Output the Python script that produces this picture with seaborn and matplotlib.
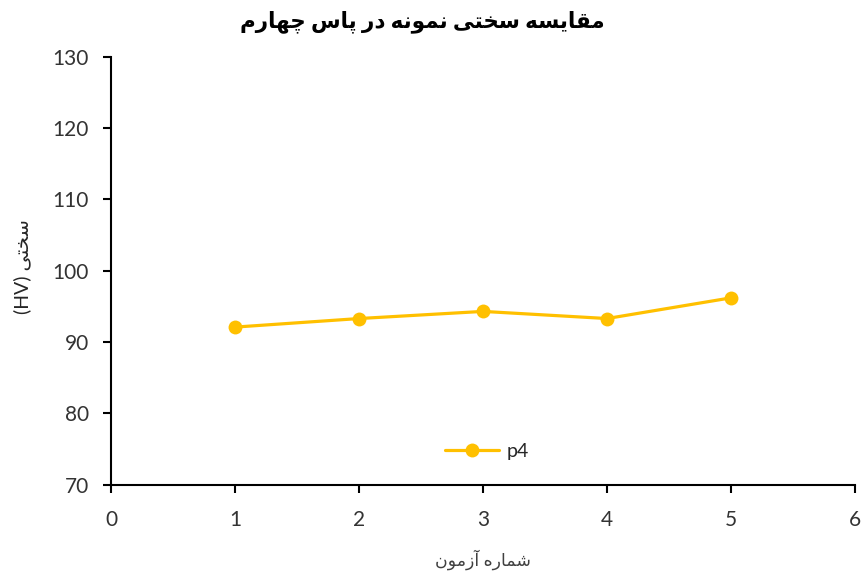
import matplotlib
matplotlib.use("Agg")
import matplotlib.pyplot as plt
import pandas as pd
import seaborn as sns

# data
azmoon = [1, 2, 3, 4, 5]
sakhti_p4 = [92.1, 93.3, 94.3, 93.3, 96.2]
nam_seri = "p4"
titr = "مقایسه سختی نمونه در پاس چهارم"
barchasb_x = "شماره آزمون"
barchasb_y = "سختی"

# simple persian shaping (matplotlib has no bidi / joining)
FORMS = {
    "ا": ("\uFE8D", "\uFE8E", None, None),
    "آ": ("\uFE81", "\uFE82", None, None),
    "ت": ("\uFE95", "\uFE96", "\uFE97", "\uFE98"),
    "خ": ("\uFEA5", "\uFEA6", "\uFEA7", "\uFEA8"),
    "د": ("\uFEA9", "\uFEAA", None, None),
    "ر": ("\uFEAD", "\uFEAE", None, None),
    "ز": ("\uFEAF", "\uFEB0", None, None),
    "س": ("\uFEB1", "\uFEB2", "\uFEB3", "\uFEB4"),
    "ش": ("\uFEB5", "\uFEB6", "\uFEB7", "\uFEB8"),
    "ق": ("\uFED5", "\uFED6", "\uFED7", "\uFED8"),
    "م": ("\uFEE1", "\uFEE2", "\uFEE3", "\uFEE4"),
    "ن": ("\uFEE5", "\uFEE6", "\uFEE7", "\uFEE8"),
    "ه": ("\uFEE9", "\uFEEA", "\uFEEB", "\uFEEC"),
    "و": ("\uFEED", "\uFEEE", None, None),
    "پ": ("\uFB56", "\uFB57", "\uFB58", "\uFB59"),
    "چ": ("\uFB7A", "\uFB7B", "\uFB7C", "\uFB7D"),
    "ی": ("\uFBFC", "\uFBFD", "\uFBFE", "\uFBFF"),
}


def farsi(matn):
    out = []
    for i, ch in enumerate(matn):
        if ch not in FORMS:
            out.append(ch)
            continue
        prev = matn[i - 1] if i > 0 else ""
        nxt = matn[i + 1] if i + 1 < len(matn) else ""
        joins_prev = prev in FORMS and FORMS[prev][2] is not None
        joins_next = nxt in FORMS and FORMS[ch][2] is not None
        iso, fin, ini, med = FORMS[ch]
        if joins_prev and joins_next:
            out.append(med)
        elif joins_prev:
            out.append(fin)
        elif joins_next:
            out.append(ini)
        else:
            out.append(iso)
    return "".join(out)[::-1]


df = pd.DataFrame({"azmoon": azmoon, "sakhti": sakhti_p4})

sns.set_style("ticks")
plt.rcParams["font.family"] = ["Lato", "DejaVu Sans"]

fig = plt.figure(figsize=(8.61, 5.73), dpi=100)
ax = fig.add_axes([0.129, 0.154, 0.864, 0.747])

sns.lineplot(
    data=df, x="azmoon", y="sakhti", ax=ax, color="#FFC000", linewidth=2.3,
    marker="o", markersize=10, markeredgewidth=0, label=nam_seri,
)

ax.set_xlim(0, 6)
ax.set_ylim(70, 130)
ax.set_xticks(range(0, 7))
ax.set_yticks(range(70, 131, 10))
ax.tick_params(axis="both", direction="out", length=6, width=1.5, color="#000000",
               labelsize=15, labelcolor="#333333")
ax.tick_params(axis="y", pad=10)
ax.tick_params(axis="x", pad=12)
for s in ["top", "right"]:
    ax.spines[s].set_visible(False)
for s in ["left", "bottom"]:
    ax.spines[s].set_color("#000000")
    ax.spines[s].set_linewidth(1.5)

fig.suptitle(farsi(titr), x=0.49, y=0.963, va="center", fontsize=15.5,
             fontweight="bold", color="#000000")
ax.set_xlabel(farsi(barchasb_x), fontsize=12.5, color="#404040", labelpad=14)
ax.set_ylabel("(HV) " + farsi(barchasb_y), fontsize=14, color="#262626", labelpad=12)
ax.yaxis.set_label_coords(-0.107, 0.51)

ax.legend(loc="center", bbox_to_anchor=(0.505, 0.077), frameon=False, fontsize=14,
          handlelength=2.8, handletextpad=0.4)

fig.savefig("out.png", dpi=100)
plt.close()
